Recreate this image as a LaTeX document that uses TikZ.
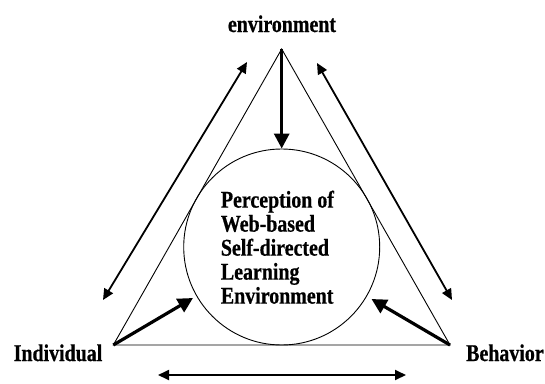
\documentclass[tikz,border=0pt]{standalone}
\usepackage{fontspec}
\setmainfont{Liberation Serif}[FakeStretch=0.83,BoldFeatures={FakeBold=0.6}]
\usetikzlibrary{arrows.meta}
\begin{document}
\begin{tikzpicture}[x=1pt,y=-1pt,
  lbl/.style={font=\bfseries\fontsize{24}{24}\selectfont, inner sep=0pt},
  thin line/.style={line width=0.9pt},
  dbl/.style={line width=1.8pt, {Triangle[length=11pt,width=10pt]}-{Triangle[length=11pt,width=10pt]}},
  thick arrow/.style={line width=3.2pt, -{Triangle[length=15pt,width=15pt]}}]
\useasboundingbox (0,0) rectangle (545,383);
\coordinate (T) at (281.7,49);
\coordinate (L) at (113.3,345);
\coordinate (R) at (450,345);
\draw[thin line] (T) -- (L) -- (R) -- cycle;
\node[circle, draw, thin line, minimum size=196pt, inner sep=0pt] (C) at (281.7,247) {};
\node[lbl, anchor=base] (env) at (282,32) {environment};
\node[lbl, anchor=base east] (ind) at (102.5,361) {Individual};
\node[lbl, anchor=base west] (beh) at (466,361) {Behavior};
\node[lbl, align=left, anchor=north west] (txt) at (220.7,190.5) {Perception of\\Web-based\\Self-directed\\Learning\\Environment};
\coordinate (a1s) at (103,300);
\coordinate (a1e) at (247,62);
\coordinate (a2s) at (317,63);
\coordinate (a2e) at (452,300);
\coordinate (a3s) at (158,375);
\coordinate (a3e) at (406,375);
\draw[dbl] (a1s) -- (a1e);
\draw[dbl] (a2s) -- (a2e);
\draw[dbl] (a3s) -- (a3e);
\draw[thick arrow] (T) -- (C.north);
\coordinate (lt) at (193,298);
\coordinate (rt) at (371.5,299);
\draw[thick arrow] (L) -- (lt);
\draw[thick arrow] (R) -- (rt);
\end{tikzpicture}
\end{document}
